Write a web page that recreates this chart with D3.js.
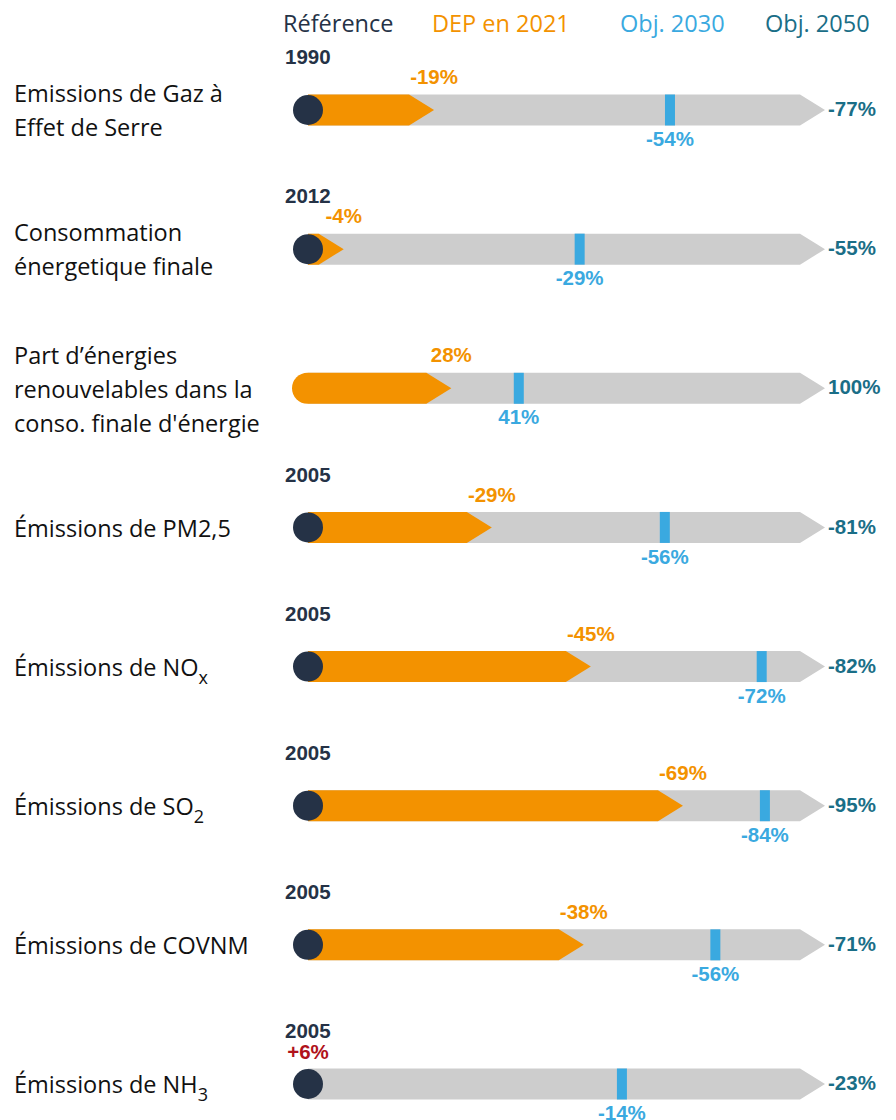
<!DOCTYPE html>
<html><head><meta charset="utf-8">
<script src="https://cdn.jsdelivr.net/npm/d3@7"></script>
<style>body{margin:0;background:#fff}svg{display:block}</style>
</head><body>
<script>
// ---- data ----
const labelLines = [
  ["Emissions de Gaz à","Effet de Serre"],
  ["Consommation","énergetique finale"],
  ["Part d’énergies","renouvelables dans la","conso. finale d'énergie"],
  ["Émissions de PM2,5"],
  ["Émissions de NO"],
  ["Émissions de SO"],
  ["Émissions de COVNM"],
  ["Émissions de NH"]
];
const labelSubs = [null,null,null,null,"x","2",null,"3"];
const refYears = ["1990","2012",null,"2005","2005","2005","2005","2005"];
const dep2021 = [-19,-4,28,-29,-45,-69,-38,6];
const obj2030 = [-54,-29,41,-56,-72,-84,-56,-14];
const obj2050 = [-77,-55,100,-81,-82,-95,-71,-23];
const legendItems = ["Référence","DEP en 2021","Obj. 2030","Obj. 2050"];

const C = {ref:"#253246", dep:"#f39200", o30:"#3aa9e0", o50:"#1a6e87", grey:"#cdcdcd", red:"#b0121b", text:"#111"};

const W=896,H=1120;
const svg=d3.select("body").append("svg").attr("width",W).attr("height",H);

const rows=d3.range(labelLines.length);
const y=d3.scalePoint().domain(rows).range([110,1084]);
const x=d3.scaleLinear().domain([0,1]).range([306,825]);
const bh=31, head=25, xStart=308;

// legend
const legX=[283,432,620,765];
const legC=[C.ref,C.dep,C.o30,C.o50];
svg.selectAll("text.leg").data(legendItems).join("text").attr("class","leg")
  .attr("x",(d,i)=>legX[i]).attr("y",24).attr("dy","0.35em")
  .attr("font-family","Open Sans").attr("font-weight",500).attr("font-size",23.5).attr("fill",(d,i)=>legC[i]).text(d=>d);

const arrowPath=(x0,x1,yc,rounded)=>{
  const t=yc-bh/2,b=yc+bh/2;
  if(rounded){
    const r=bh/2;
    return `M${x0+r},${t}L${x1-head},${t}L${x1},${yc}L${x1-head},${b}L${x0+r},${b}A${r},${r} 0 0 1 ${x0+r},${t}Z`;
  }
  return `M${x0},${t}L${x1-head},${t}L${x1},${yc}L${x1-head},${b}L${x0},${b}Z`;
};

const g=svg.selectAll("g.row").data(rows).join("g").attr("class","row");

// row labels
g.each(function(i){
  const sel=d3.select(this);
  const lines=labelLines[i], n=lines.length, lh=34;
  lines.forEach((ln,k)=>{
    const t=sel.append("text").attr("x",14).attr("y",y(i)+(k-(n-1)/2)*lh+1).attr("dy","0.35em")
      .attr("font-family","Open Sans").attr("font-size",23.5).attr("fill",C.text);
    t.append("tspan").text(ln);
    if(k===n-1 && labelSubs[i]) t.append("tspan").attr("dy",8).attr("font-size",18).text(labelSubs[i]);
  });
});

// grey arrow
g.append("path").attr("d",i=>arrowPath(xStart,x(1),y(i),false)).attr("fill",C.grey);
// orange arrow
g.filter(i=>dep2021[i]/obj2050[i]>0).append("path")
  .attr("d",i=>arrowPath(refYears[i]?xStart:292,x(dep2021[i]/obj2050[i]),y(i),!refYears[i]))
  .attr("fill",C.dep);
// reference circle
g.filter(i=>refYears[i]).append("circle").attr("cx",xStart).attr("cy",i=>y(i)).attr("r",15).attr("fill",C.ref);
// 2030 marker
g.append("rect").attr("x",i=>x(obj2030[i]/obj2050[i])-5).attr("y",i=>y(i)-bh/2).attr("width",10).attr("height",bh).attr("fill",C.o30);

const num=sel=>sel.attr("font-family","Liberation Sans, Arial").attr("font-weight","bold").attr("font-size",20.5).attr("dy","0.35em");
// year labels
g.filter(i=>refYears[i]).append("text").call(num).attr("x",285).attr("y",i=>y(i)-53).attr("fill",C.ref).text(i=>refYears[i]);
// dep labels
g.append("text").call(num).attr("text-anchor","middle")
  .attr("x",i=>dep2021[i]/obj2050[i]>0?x(dep2021[i]/obj2050[i]):xStart)
  .attr("y",i=>y(i)-(dep2021[i]/obj2050[i]>0?33:32))
  .attr("fill",i=>dep2021[i]/obj2050[i]>0?C.dep:C.red)
  .text(i=>(dep2021[i]>0&&dep2021[i]/obj2050[i]<0?"+":"")+dep2021[i]+"%");
// 2030 labels
g.append("text").call(num).attr("text-anchor","middle").attr("x",i=>x(obj2030[i]/obj2050[i])).attr("y",i=>y(i)+29)
  .attr("fill",C.o30).text(i=>obj2030[i]+"%");
// 2050 labels
g.append("text").call(num).attr("x",828).attr("y",i=>y(i)-1).attr("fill",C.o50).text(i=>obj2050[i]+"%");
</script>
</body></html>
